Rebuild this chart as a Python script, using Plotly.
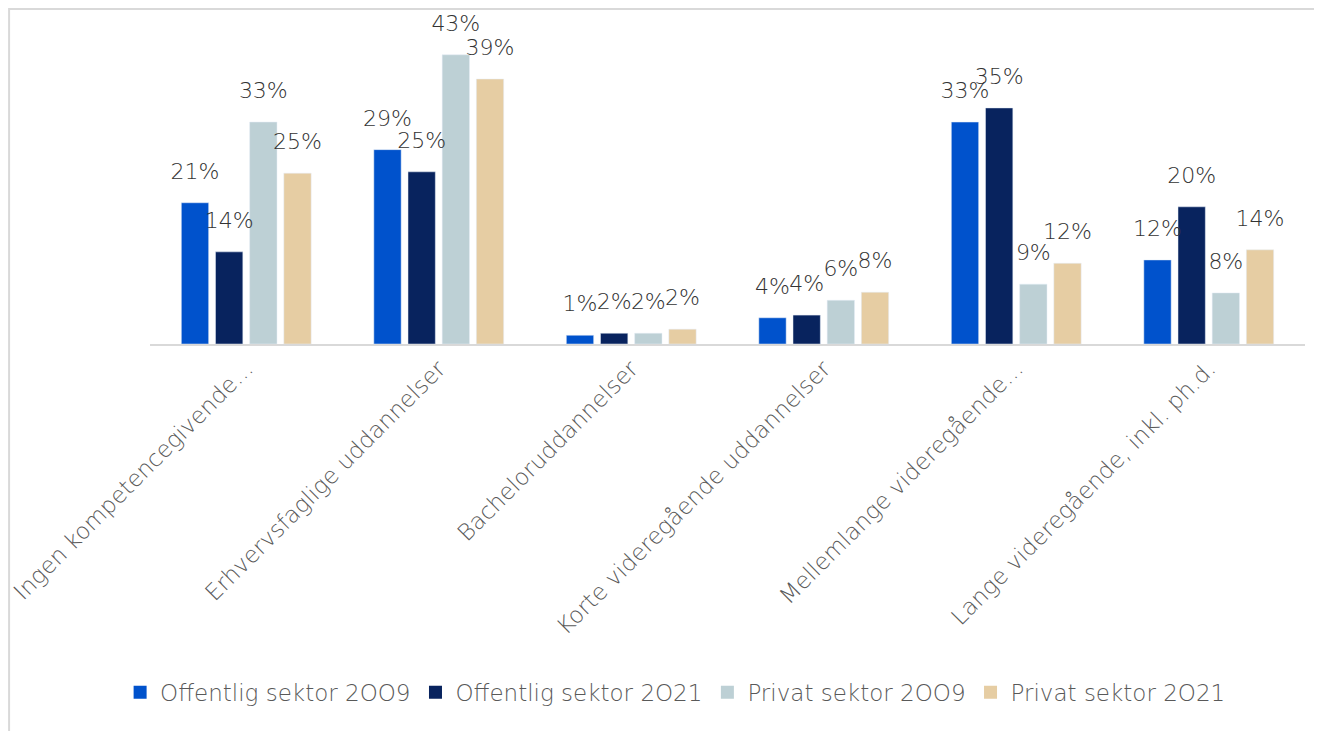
import plotly.graph_objects as go

categories = ["Ingen kompetencegivende...", "Erhvervsfaglige uddannelser", "Bacheloruddannelser",
              "Korte videregående uddannelser", "Mellemlange videregående...", "Lange videregående, inkl. ph.d."]
series = ["Offentlig sektor 2OO9", "Offentlig sektor 2O21", "Privat sektor 2OO9", "Privat sektor 2O21"]
colors = ["#0052cc", "#08235e", "#bdd0d5", "#e6cda3"]

off_2009 = [21.0, 28.9, 1.3, 3.9, 33.0, 12.5]
off_2021 = [13.7, 25.6, 1.6, 4.3, 35.1, 20.4]
priv_2009 = [33.0, 43.0, 1.6, 6.5, 8.9, 7.6]
priv_2021 = [25.4, 39.4, 2.2, 7.7, 12.0, 14.0]

off_2009_lbl = [21, 29, 1, 4, 33, 12]
off_2021_lbl = [14, 25, 2, 4, 35, 20]
priv_2009_lbl = [33, 43, 2, 6, 9, 8]
priv_2021_lbl = [25, 39, 2, 8, 12, 14]

values = [off_2009, off_2021, priv_2009, priv_2021]
labels = [off_2009_lbl, off_2021_lbl, priv_2009_lbl, priv_2021_lbl]

FONT = "DejaVu Sans"

fig = go.Figure()
for i, (name, col, v) in enumerate(zip(series, colors, values)):
    fig.add_trace(go.Bar(x=categories, y=v, name=name, marker_color=col,
                         offsetgroup=str(i), showlegend=False))

# value labels, grouped like the bars, lifted a bit above each bar
for i, (v, l) in enumerate(zip(values, labels)):
    fig.add_trace(go.Scatter(
        x=categories, y=v, mode="markers+text", offsetgroup=str(i),
        marker=dict(size=28, opacity=0), text=[f"{t}%" for t in l],
        textposition="top center", showlegend=False, hoverinfo="skip",
        textfont=dict(family=FONT, size=22, color="#333333", weight=200),
        cliponaxis=False,
    ))

# legend entries with bigger square keys
for name, col in zip(series, colors):
    fig.add_trace(go.Scatter(x=[None], y=[None], mode="markers", name=name,
                             marker=dict(symbol="square", size=13, color=col)))

fig.update_layout(
    width=1322, height=731,
    margin=dict(l=142, r=25, t=32, b=395, autoexpand=False),
    paper_bgcolor="white", plot_bgcolor="white",
    font=dict(family=FONT, size=23, color="#595959", weight=200),
    barmode="group", bargap=0.29, bargroupgap=0.2,
    scattermode="group",
    showlegend=True,
    legend=dict(orientation="h", xref="container", yref="container",
                x=0.505, xanchor="center", y=0.064, yanchor="middle",
                font=dict(family=FONT, size=23, color="#595959", weight=200),
                itemwidth=30, traceorder="normal"),
    xaxis=dict(tickangle=-45, showline=True, linecolor="#d9d9d9", linewidth=2,
               ticks="", automargin=False,
               tickfont=dict(family=FONT, size=23, color="#595959", weight=200)),
    yaxis=dict(range=[0, 45.2], visible=False, automargin=False),
)

# light frame around the chart
fig.add_shape(type="rect", xref="paper", yref="paper",
              x0=-0.122, x1=1.5, y0=-1.5, y1=1.102,
              line=dict(color="#d9d9d9", width=2), layer="below")

fig.write_html("out.html")
